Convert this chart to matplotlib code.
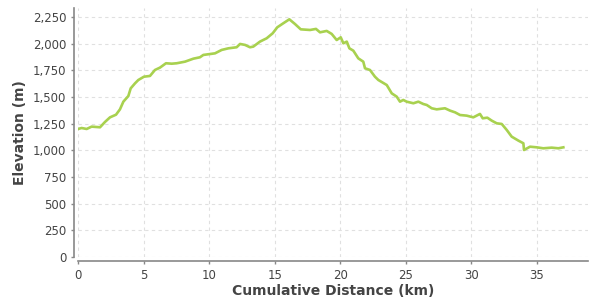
import numpy as np
import matplotlib.pyplot as plt
from matplotlib.ticker import FuncFormatter, MultipleLocator

# distance along the route (km) and elevation (m)
dist_km = [0.0, 0.28, 0.66, 1.04, 1.68, 2.06, 2.44, 2.9, 3.2, 3.46, 3.84, 4.02,
           4.35, 4.6, 5.03, 5.49, 5.87, 6.25, 6.71, 7.15, 7.53, 8.16, 8.8, 9.3,
           9.56, 10.45, 10.96, 11.47, 12.1, 12.36, 12.74, 13.12, 13.37, 13.88,
           14.39, 14.85, 15.2, 15.66, 16.12, 16.55, 16.99, 17.7, 18.15, 18.46,
           18.97, 19.35, 19.73, 20.04, 20.24, 20.5, 20.7, 21.0, 21.38, 21.76,
           21.89, 22.27, 22.65, 22.91, 23.55, 23.93, 24.31, 24.56, 24.81, 25.07,
           25.58, 25.96, 26.34, 26.6, 26.98, 27.36, 27.99, 28.38, 28.76, 29.14,
           29.65, 30.15, 30.66, 30.87, 31.22, 31.56, 31.94, 32.32, 32.7, 33.08,
           33.59, 33.97, 34.02, 34.48, 34.99, 35.49, 36.13, 36.64, 37.02]
elev_m = [1200, 1209, 1200, 1222, 1216, 1266, 1309, 1334, 1384, 1456, 1509, 1581,
          1628, 1659, 1690, 1697, 1753, 1775, 1816, 1812, 1816, 1831, 1859, 1872,
          1894, 1909, 1941, 1956, 1966, 1997, 1988, 1966, 1972, 2019,
          2050, 2097, 2153, 2191, 2228, 2184, 2134, 2128, 2138, 2106,
          2119, 2091, 2034, 2059, 2003, 2019, 1956, 1934, 1862, 1831,
          1769, 1753, 1690, 1659, 1612, 1534, 1503, 1456, 1472, 1456,
          1441, 1456, 1434, 1425, 1394, 1384, 1394, 1372, 1356, 1331,
          1325, 1309, 1341, 1300, 1306, 1278, 1253, 1247, 1191, 1128,
          1091, 1066, 1003, 1034, 1028, 1019, 1025, 1019, 1028]

text_col = '#444444'
plt.rcParams['font.family'] = ['DejaVu Sans']

fig = plt.figure(figsize=(6, 3.05), dpi=100)
# plot area: x=0 at px 78, y=0 at px 257
ax = fig.add_axes([78/600, 1 - 257/305, (588-78)/600, (257-8)/305])

ax.plot(dist_km, elev_m, color='#a8d14f', lw=1.9, solid_joinstyle='round')

ax.set_xlim(0, 38.9)
ax.set_ylim(0, 2334)
ax.xaxis.set_major_locator(MultipleLocator(5))
ax.yaxis.set_major_locator(MultipleLocator(250))
ax.yaxis.set_major_formatter(FuncFormatter(lambda v, p: '{:,.0f}'.format(v)))

ax.grid(True, color='#e0e0e0', ls=(0, (3, 3)), lw=0.8)
ax.set_axisbelow(True)
for s in ['top', 'right']:
    ax.spines[s].set_visible(False)
for s in ['left', 'bottom']:
    ax.spines[s].set_color('#888888')
    ax.spines[s].set_linewidth(1.2)
    ax.spines[s].set_position(('outward', 3))

ax.tick_params(axis='both', colors='#888888', labelcolor=text_col,
               labelsize=8.5, length=2.5, width=1, pad=3)

ax.set_xlabel('Cumulative Distance (km)', fontsize=10, fontweight='bold',
              color=text_col, labelpad=1.5)
ax.set_ylabel('Elevation (m)', fontsize=10, fontweight='bold',
              color=text_col, labelpad=4)

fig.savefig('out.png', dpi=100)
